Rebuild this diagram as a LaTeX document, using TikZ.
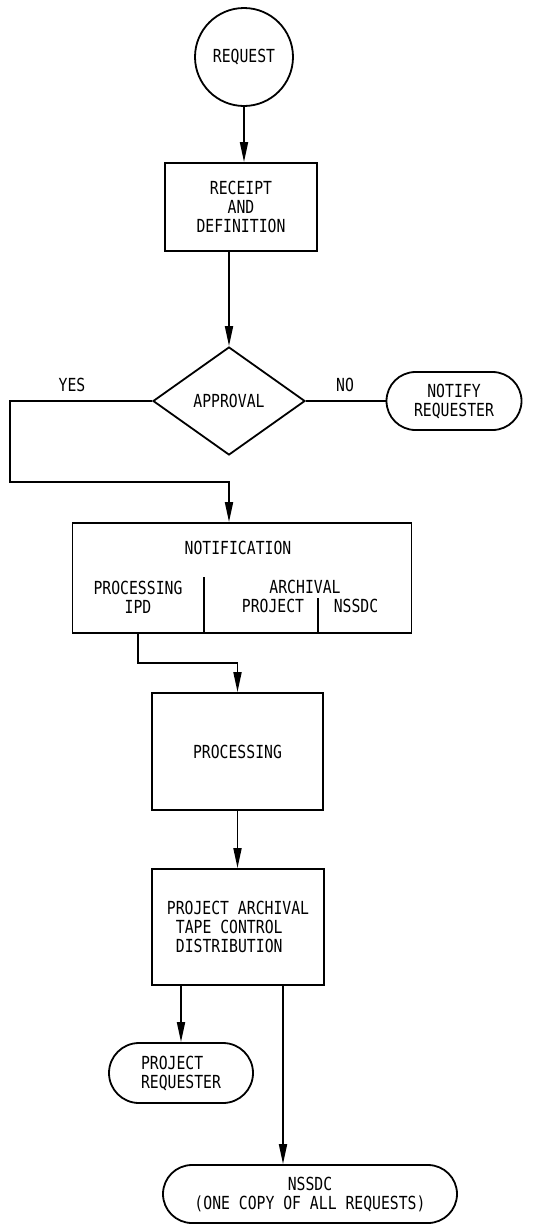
\documentclass[tikz,border=0pt]{standalone}
\usepackage{fontspec}
\setmainfont{DejaVu Sans Mono}[FakeStretch=0.82]
\usetikzlibrary{shapes.geometric,shapes.misc,arrows.meta}

\begin{document}
\begin{tikzpicture}[x=1pt, y=-1pt, line width=1.8pt,
    font=\fontsize{18}{19}\selectfont,
    box/.style={draw, rectangle, align=center, inner sep=0pt},
    term/.style={draw, rounded rectangle, align=center, inner sep=0pt},
    flow/.style={-{Triangle[length=20pt,width=8pt]}}]
    \useasboundingbox (0, 0) rectangle (542, 1224);

    \node[draw, circle, minimum size=98pt, inner sep=0pt] (req) at (244, 57) {REQUEST};
    \node[box, minimum width=152pt, minimum height=88pt] (rcpt) at (241, 207) {RECEIPT\\AND\\DEFINITION};
    \node[draw, diamond, minimum width=152pt, minimum height=108pt, inner sep=0pt] (appr) at (229, 401) {APPROVAL};
    \node[term, minimum width=135pt, minimum height=58pt] (ntfy) at (454, 401) {NOTIFY\\REQUESTER};
    \node (yes) at (72, 385) {YES};
    \node (no) at (345, 385) {NO};

    \node[box, minimum width=339pt, minimum height=110pt] (notif) at (242, 578) {};
    \node (ntxt) at (238, 548) {NOTIFICATION};
    \node[align=center] (ipd) at (138, 597) {PROCESSING\\IPD};
    \node (arch) at (305, 587) {ARCHIVAL};
    \node (proj) at (273, 606) {PROJECT};
    \node (nsd) at (356, 606) {NSSDC};
    \coordinate (divA) at (204, 577);
    \coordinate (divB) at (318, 598);
    \draw (divA) -- (divA |- notif.south);
    \draw (divB) -- (divB |- notif.south);

    \node[box, minimum width=171pt, minimum height=117pt] (proc) at (237.5, 751.5) {PROCESSING};
    \node[box, align=left, minimum width=172pt, minimum height=116pt] (pat) at (238, 927)
        {PROJECT ARCHIVAL\\\hspace*{9pt}TAPE CONTROL\\\hspace*{9pt}DISTRIBUTION};
    \node[term, align=left, minimum width=144pt, minimum height=60pt] (preq) at (181, 1073) {PROJECT\\REQUESTER};
    \node[term, minimum width=294pt, minimum height=58pt] (nssdc) at (310, 1194) {NSSDC\\(ONE COPY OF ALL REQUESTS)};

    % main flow
    \draw[flow] (req.south) -- (req.south |- rcpt.north);
    \draw[flow] (rcpt.south -| appr.north) -- (appr.north);
    \draw (appr.east) -- (ntfy.west);
    \coordinate (yl) at (10, 482);
    \draw[flow] (appr.west) -| (yl) -- (yl -| appr.south) -- (appr.south |- notif.north);
    \coordinate (pl) at (0, 663);
    \draw[flow] (ipd |- notif.south) -- (ipd |- pl) -| (proc.north);
    \draw[flow] (proc.south) -- (proc.south |- pat.north);

    % distribution
    \draw[flow] (preq.north |- pat.south) -- (preq.north);
    \coordinate (cp) at (283, 0);
    \draw[flow] (cp |- pat.south) -- (cp |- nssdc.north);
\end{tikzpicture}
\end{document}
